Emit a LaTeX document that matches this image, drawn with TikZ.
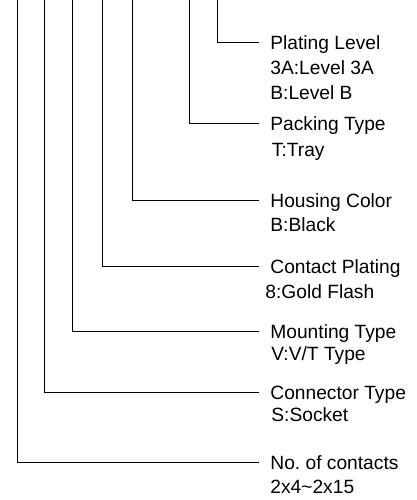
\documentclass[tikz,border=0pt]{standalone}
\usepackage{fontspec}
\setmainfont{Liberation Sans}
\frenchspacing
\begin{document}
\begin{tikzpicture}[x=0.5pt,y=-0.5pt,
    head/.style={anchor=base west,inner xsep=5.5pt,inner ysep=0pt,
      text height=7pt,text depth=0pt,font=\fontsize{9.6pt}{12pt}\selectfont},
    val/.style={anchor=base west,inner sep=0pt,font=\fontsize{9.6pt}{12pt}\selectfont},
    lead/.style={line width=0.5pt}]
  \useasboundingbox (0,0) rectangle (417,500);
  % leads come in from the top edge
  \coordinate (tPlt) at (218,0);
  \coordinate (tPck) at (190,0);
  \coordinate (tHsg) at (133,0);
  \coordinate (tCtp) at (103,0);
  \coordinate (tMnt) at (73,0);
  \coordinate (tCon) at (45,0);
  \coordinate (tNum) at (17.5,0);
  % labels
  \node[head] (hPlt) at (259,49.3) {Plating Level};
  \node[val] (vPlt1) at (270,74) {3A:Level 3A};
  \node[val] (vPlt2) at (270,99.3) {B:Level B};
  \node[head] (hPck) at (259,130.7) {Packing Type};
  \node[val] (vPck) at (271.5,156.7) {T:Tray};
  \node[head] (hHsg) at (259,207.7) {Housing Color};
  \node[val] (vHsg) at (270,231.7) {B:Black};
  \node[head] (hCtp) at (259,273.3) {Contact Plating};
  \node[val] (vCtp) at (265,298.3) {8:Gold Flash};
  \node[head] (hMnt) at (259,338) {Mounting Type};
  \node[val] (vMnt) at (271,360.7) {V:V/T Type};
  \node[head] (hCon) at (259,399.3) {Connector Type};
  \node[val] (vCon) at (271,421.7) {S:Socket};
  \node[head] (hNum) at (259,469) {No.\ of contacts};
  \node[val] (vNum) at (270,493.3) {2x4\textasciitilde 2x15};
  % leads
  \draw[lead] (tPlt) |- (hPlt.west);
  \draw[lead] (tPck) |- (hPck.west);
  \draw[lead] (tHsg) |- (hHsg.west);
  \draw[lead] (tCtp) |- (hCtp.west);
  \draw[lead] (tMnt) |- (hMnt.west);
  \draw[lead] (tCon) |- (hCon.west);
  \draw[lead] (tNum) |- (hNum.west);
\end{tikzpicture}
\end{document}
